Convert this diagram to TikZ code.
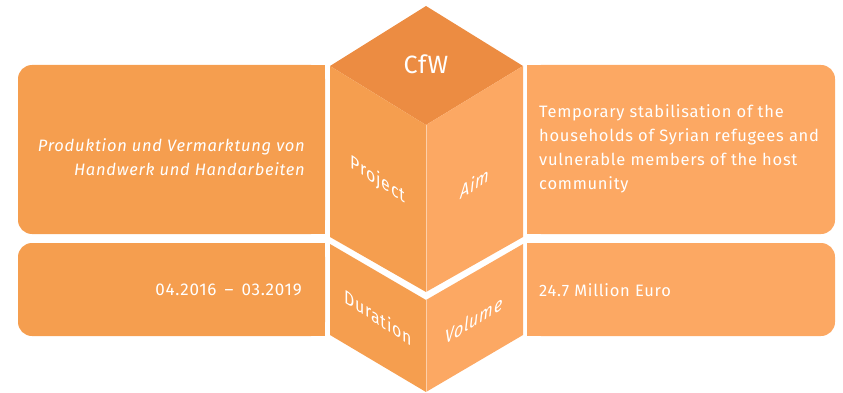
\documentclass[tikz,border=0pt]{standalone}
\usepackage{fontspec}
\setmainfont{Fira Sans}[LetterSpace=4.5]
\definecolor{topc}{HTML}{EC8C42}
\definecolor{leftc}{HTML}{F59E4F}
\definecolor{rightc}{HTML}{FCA863}
\tikzset{
  txt/.style={text=white, font=\fontsize{16.5}{24}\selectfont, inner sep=0pt},
  face/.style={font=\fontsize{19}{22}\selectfont, text=white, inner sep=0pt},
  leftface/.style={face, cm={0.839,-0.545,0,1,(0,0)}},
  rightface/.style={face, font=\fontsize{19}{22}\selectfont\itshape, cm={0.848,0.53,0,1,(0,0)}},
}
\begin{document}
\begin{tikzpicture}[x=1pt,y=-1pt]
\useasboundingbox (0,0) rectangle (843,393);
% side boxes
\fill[leftc, rounded corners=14] (18,65) rectangle (325,234);
\fill[leftc] (200,65) rectangle (325,234);
\fill[leftc, rounded corners=14] (18,243) rectangle (325,336);
\fill[leftc] (200,243) rectangle (325,336);
\fill[rightc, rounded corners=14] (527,65) rectangle (835,234);
\fill[rightc] (527,65) rectangle (650,234);
\fill[rightc, rounded corners=14] (527,243) rectangle (835,336);
\fill[rightc] (527,243) rectangle (650,336);
% cube
\fill[topc] (426,6) -- (523,66) -- (426,125) -- (330,66) -- cycle;
\fill[leftc] (330,66) -- (426,125) -- (426,292) -- (330,237) -- cycle;
\fill[rightc] (426,125) -- (523,66) -- (523,237) -- (426,292) -- cycle;
\fill[leftc] (330,244) -- (426,300) -- (426,392) -- (330,335) -- cycle;
\fill[rightc] (426,300) -- (523,244) -- (523,335) -- (426,392) -- cycle;
\draw[white, opacity=0.45, line width=0.6pt] (426,125) -- (426,292) (426,300) -- (426,392);
% cube labels
\node[face, font=\fontsize{25}{28}\selectfont] (cfw) at (426,64) {CfW};
\node[leftface] (project) at (378,180) {Project};
\node[rightface] (aim) at (475,183) {Aim};
\node[leftface] (duration) at (378,317) {Duration};
\node[rightface] (volume) at (474,320) {Volume};
% box texts
\node[txt, anchor=east, align=right] (prod) at (305,157) {\itshape Produktion und Vermarktung von\\\itshape Handwerk und Handarbeiten};
\node[txt, anchor=east, font=\fontsize{17}{24}\selectfont] (dur) at (302,290) {04.2016 \,--\, 03.2019};
\node[txt, anchor=west, align=left] (aimtxt) at (539,149) {Temporary stabilisation of the\\households of Syrian refugees and\\vulnerable members of the host\\community};
\node[txt, anchor=west] (vol) at (539,290) {24.7 Million Euro};
\end{tikzpicture}
\end{document}
